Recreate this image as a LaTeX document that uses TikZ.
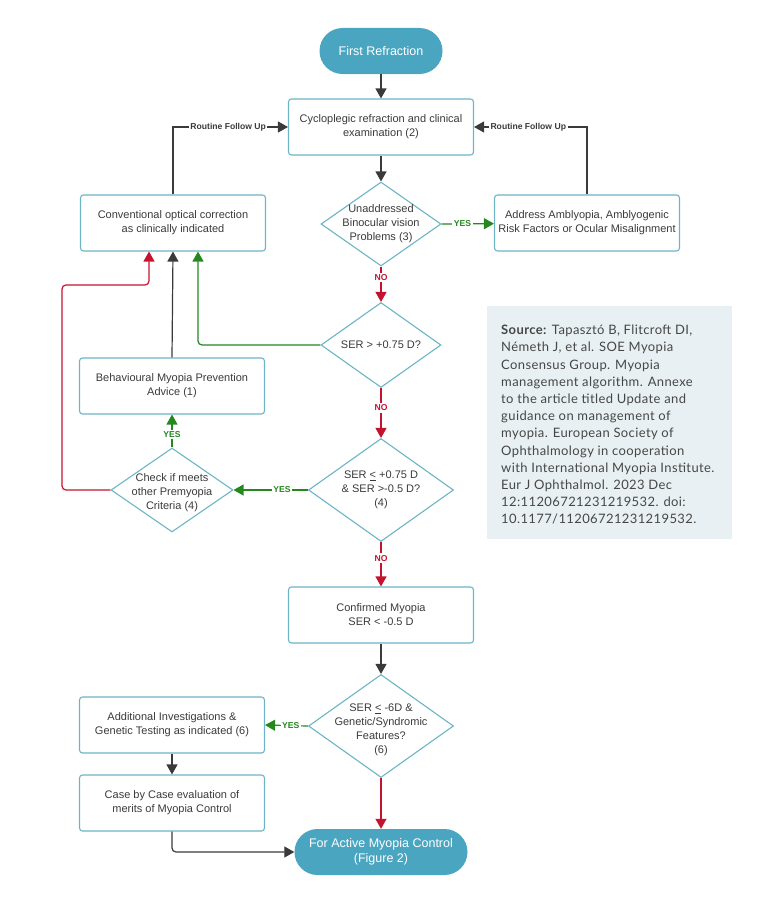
\documentclass[tikz,border=0pt]{standalone}
\usepackage{fontspec}
\setmainfont{Liberation Sans}
\newfontfamily\srcfont[LetterSpace=3]{Lato}
\usetikzlibrary{arrows.meta,shapes.geometric}

\definecolor{pillcol}{HTML}{4AA5C1}
\definecolor{boxcol}{HTML}{6CB4C6}
\definecolor{txtcol}{HTML}{3A3A3A}
\definecolor{arrblack}{HTML}{3A3A3A}
\definecolor{arrgreen}{HTML}{24881F}
\definecolor{arrred}{HTML}{C4122F}
\definecolor{srcbg}{HTML}{E8F0F3}
\definecolor{srctxt}{HTML}{474747}

\begin{document}
\begin{tikzpicture}[x=1pt,y=-1pt,
  box/.style={draw=boxcol,line width=1.1pt,rounded corners=3pt,minimum width=185pt,
    minimum height=56pt,align=center,text=txtcol,font=\fontsize{11}{14}\selectfont},
  pill/.style={fill=pillcol,rounded corners=23pt,minimum height=46pt,align=center,
    text=white,font=\fontsize{12.5}{15}\selectfont},
  dia/.style={diamond,draw=boxcol,line width=1.1pt,inner sep=0pt},
  dtxt/.style={align=center,text=txtcol,font=\fontsize{11}{14}\selectfont},
  arr/.style={line width=1.2pt,-{Triangle[width=11pt,length=10pt]}},
  blk/.style={arr,draw=arrblack},
  grn/.style={arr,draw=arrgreen},
  rdd/.style={arr,draw=arrred},
  lbl/.style={fill=white,inner sep=1.5pt,font=\bfseries\fontsize{8.6}{9}\selectfont}]
\useasboundingbox (0,0) rectangle (768,907);

% main column
\node[pill,minimum width=123pt] (start) at (381,51) {First Refraction};
\node[box] (cyc) at (381,127) {Cycloplegic refraction and clinical\\examination (2)};
\node[dia,minimum width=120pt,minimum height=84pt] (d1) at (381,224) {};
\node[dtxt] at (d1) {Unaddressed\\Binocular vision\\Problems (3)};
\node[dia,minimum width=120pt,minimum height=85pt] (d2) at (381,345) {};
\node[dtxt] at (d2) {SER > +0.75 D?};
\node[dia,minimum width=145pt,minimum height=103pt] (d3) at (381,490) {};
\node[dtxt] at (d3) {SER \underline{<} +0.75 D\\\& SER >-0.5 D?\\(4)};
\node[box] (conf) at (381,615) {Confirmed Myopia\\SER < -0.5 D};
\node[dia,minimum width=145pt,minimum height=103pt] (d4) at (381,726) {};
\node[dtxt] at ([yshift=-4pt]d4) {SER \underline{<} -6D \&\\Genetic/Syndromic\\Features?\\(6)};
\node[pill,minimum width=173pt] (fin) at (381,852) {For Active Myopia Control\\(Figure 2)};

% side boxes
\node[box] (addr) at (587,223) {Address Amblyopia, Amblyogenic\\Risk Factors or Ocular Misalignment};
\node[box] (conv) at (173,223) {Conventional optical correction\\as clinically indicated};
\node[box] (behav) at (172,386) {Behavioural Myopia Prevention\\Advice (1)};
\node[dia,minimum width=122pt,minimum height=84pt] (chk) at (172,490) {};
\node[dtxt] at ([yshift=-3pt]chk) {Check if meets\\other Premyopia\\Criteria (4)};
\node[box] (addi) at (172,725) {Additional Investigations \&\\Genetic Testing as indicated (6)};
\node[box] (case) at (172,803) {Case by Case evaluation of\\merits of Myopia Control};

% source
\node[fill=srcbg,minimum width=245pt,minimum height=233pt,anchor=north west] (src) at (487,306) {};
\node[anchor=north west,inner sep=0pt,align=left,text=srctxt,
  font=\srcfont\fontsize{13}{17.2}\selectfont] (srctext) at (501,325)
  {\textbf{Source:} Tapasztó B, Flitcroft DI,\\Németh J, et al. SOE Myopia\\Consensus Group. Myopia\\
   management algorithm. Annexe\\to the article titled Update and\\guidance on management of\\
   myopia. European Society of\\Ophthalmology in cooperation\\with International Myopia Institute.\\
   Eur J Ophthalmol. 2023 Dec\\12:11206721231219532. doi:\\10.1177/11206721231219532.};

\coordinate (rturn) at (62,285);

\draw[blk] (start) -- (cyc);
\draw[blk] (cyc) -- (d1);
\draw[grn] (d1.east) -- node[lbl,text=arrgreen,pos=0.4]{YES} (addr);
\draw[blk] (conv.north) |- node[lbl,text=arrblack,pos=0.74]{Routine Follow Up} (cyc.west);
\draw[blk] (addr.north) |- node[lbl,text=arrblack,pos=0.76]{Routine Follow Up} (cyc.east);
\draw[rdd] (d1.south) -- node[lbl,text=arrred,pos=0.3]{NO} (d2.north);
\draw[grn,rounded corners=4pt] (d2.west) -| ([xshift=25pt]conv.south);
\draw[rdd] (d2.south) -- node[lbl,text=arrred,pos=0.4]{NO} (d3.north);
\draw[grn] (d3.west) -- node[lbl,text=arrgreen,pos=0.35]{YES} (chk.east);
\draw[grn] (chk.north) -- node[lbl,text=arrgreen,pos=0.4]{YES} (behav.south);
\draw[blk] (behav.north) -- (conv.south);
\draw[rdd,rounded corners=4pt] (chk.west) -| (rturn) -| ([xshift=-24pt]conv.south);
\draw[rdd] (d3.south) -- node[lbl,text=arrred,pos=0.36]{NO} (conf.north);
\draw[blk] (conf) -- (d4);
\draw[grn] (d4.west) -- node[lbl,text=arrgreen,pos=0.4]{YES} (addi.east);
\draw[blk] (addi) -- (case);
\draw[rdd] (d4.south) -- (fin.north);
\draw[blk,rounded corners=4pt] (case.south) |- (fin.west);
\end{tikzpicture}
\end{document}
